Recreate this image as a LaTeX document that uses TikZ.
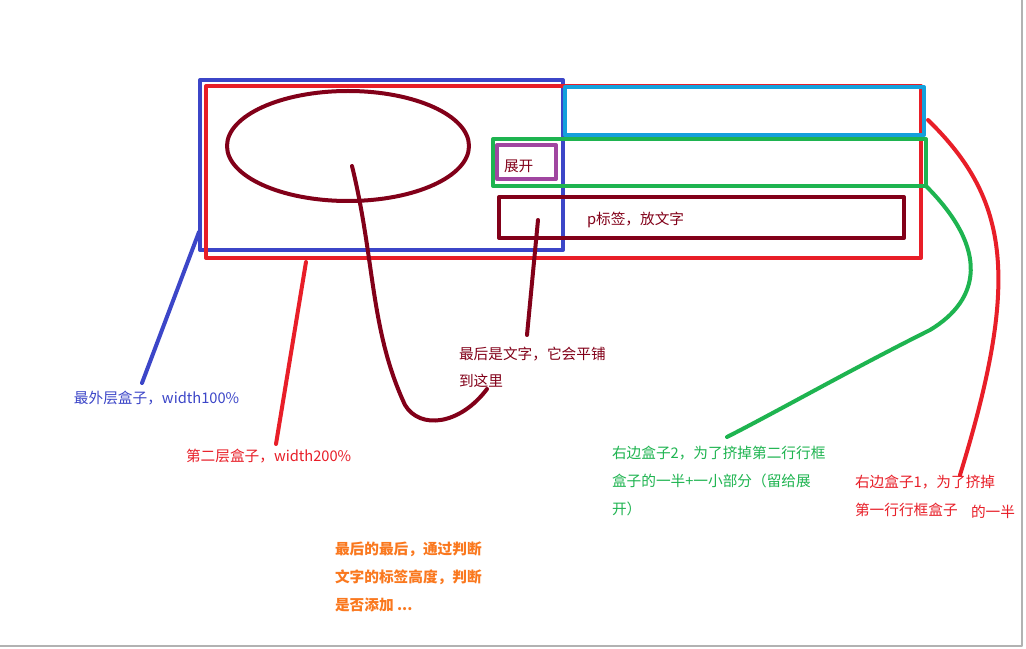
\documentclass[tikz,border=0pt]{standalone}
\usepackage{fontspec}
\setmainfont{Noto Sans CJK SC}
\begin{document}
\begin{tikzpicture}[x=0.75pt,y=-0.75pt,line width=3pt,line cap=round,line join=round,
  lbl/.style={anchor=west,inner sep=0pt,font=\fontsize{11}{13}\selectfont}]
\definecolor{cblue}{RGB}{60,70,200}
\definecolor{cred}{RGB}{232,30,40}
\definecolor{ccyan}{RGB}{20,160,220}
\definecolor{cgreen}{RGB}{30,180,80}
\definecolor{cpurp}{RGB}{160,70,160}
\definecolor{cdark}{RGB}{130,0,25}
\definecolor{corange}{RGB}{250,120,30}
\useasboundingbox (0,0) rectangle (1026,649);
\fill[white] (0,0) rectangle (1026,649);
\draw[gray!60,line width=1pt] (0,646) -- (1022,646) -- (1022,0);
\draw[cblue] (200,80) rectangle (563,250);
\draw[cred] (206,86) rectangle (921,258);
\draw[ccyan] (565,87) rectangle (924,135);
\draw[cgreen] (493,139) rectangle (926,186);
\draw[cpurp] (497,145) rectangle (556,179);
\node[lbl,text=cdark] (zk) at (502,166) {展开};
\draw[cdark] (499,197) rectangle (904,238);
\node[lbl,text=cdark] (pt) at (585,220) {p标签，放文字};
\draw[cdark] (348,146) ellipse (121 and 55);
\draw[cdark] (352,166) .. controls (375,260) and (370,330) .. (405,405) .. controls (420,430) and (460,425) .. (487,389);
\draw[cdark] (538,220) -- (527,335);
\draw[cblue] (199,232) -- (142,383);
\draw[cred] (306,262) -- (276,444);
\draw[cgreen] (926,186) .. controls (990,250) and (980,300) .. (930,330) .. controls (850,370) and (780,410) .. (727,437);
\draw[cred] (928,120) .. controls (1010,200) and (1020,280) .. (960,475);
\node[lbl,text=cdark] (t1) at (457,354) {最后是文字，它会平铺};
\node[lbl,text=cdark] (t2) at (457,381) {到这里};
\node[lbl,text=cblue] (t3) at (72,398) {最外层盒子，width100\%};
\node[lbl,text=cred] (t4) at (184,456) {第二层盒子，width200\%};
\node[lbl,text=cgreen] (g1) at (610,453) {右边盒子2，为了挤掉第二行行框};
\node[lbl,text=cgreen] (g2) at (610,481) {盒子的一半+一小部分（留给展};
\node[lbl,text=cgreen] (g3) at (610,509) {开）};
\node[lbl,text=cred] (r1) at (853,482) {右边盒子1，为了挤掉};
\node[lbl,text=cred] (r2) at (853,510) {第一行行框盒子};
\node[lbl,text=cred] (r3) at (969,512) {的一半};
\node[lbl,text=corange,font=\fontsize{11}{13}\selectfont\bfseries] (o1) at (333,549) {最后的最后，通过判断};
\node[lbl,text=corange,font=\fontsize{11}{13}\selectfont\bfseries] (o2) at (333,577) {文字的标签高度，判断};
\node[lbl,text=corange,font=\fontsize{11}{13}\selectfont\bfseries] (o3) at (333,605) {是否添加 ...};
\end{tikzpicture}
\end{document}
